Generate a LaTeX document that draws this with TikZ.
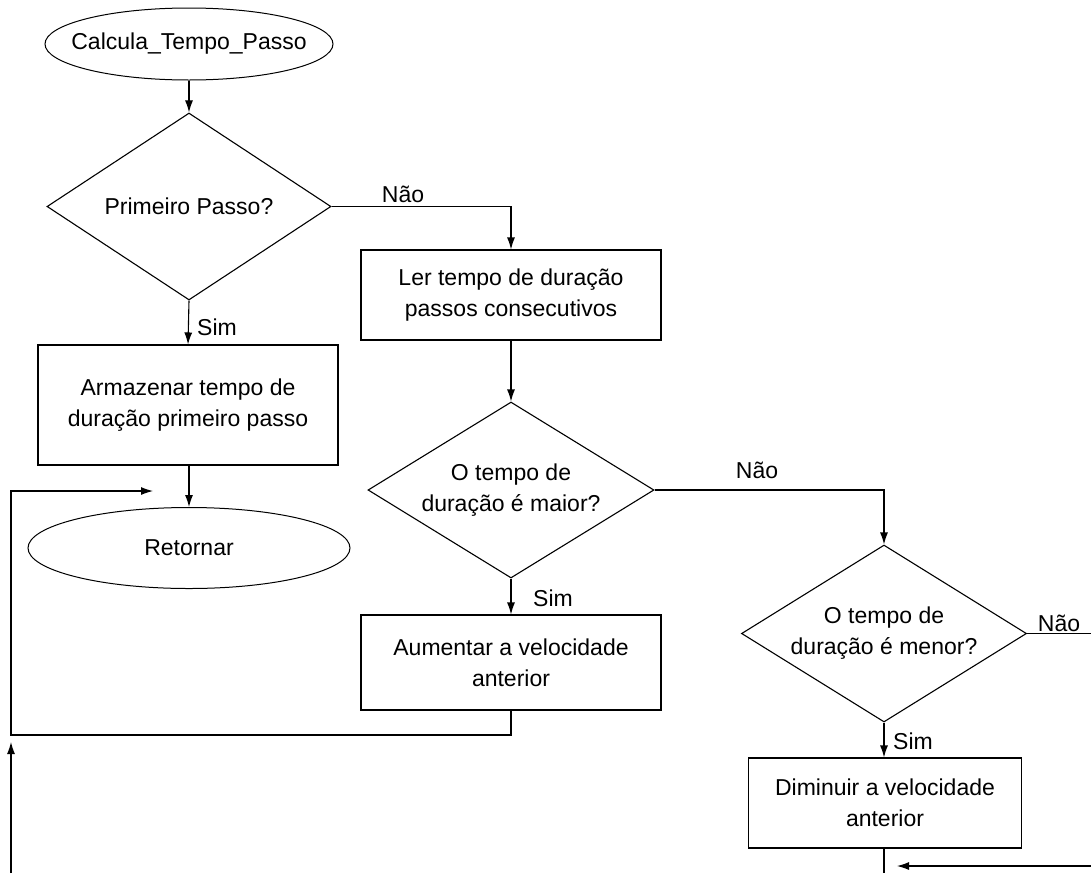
\documentclass[tikz,border=0pt]{standalone}
\usepackage{fontspec}
\setmainfont{Liberation Sans}
\usetikzlibrary{shapes.geometric,arrows.meta}
\begin{document}
\begin{tikzpicture}[x=1pt,y=-1pt,
  every node/.style={font=\fontsize{23}{31}\selectfont, align=center, inner sep=0pt},
  terminal/.style={draw, ellipse, line width=1pt},
  stepbox/.style={draw, rectangle, line width=1.1pt},
  decision/.style={draw, diamond, line width=1.1pt},
  flow/.style={line width=1.1pt},
  arr/.style={flow, -{Latex[length=12pt,width=8pt]}},
  lbl/.style={fill=none}]
\useasboundingbox (0,0) rectangle (1091,873);

% main column
\node[terminal, inner xsep=-17pt, minimum width=288, minimum height=72] (start) at (189,44) {Calcula\_Tempo\_Passo};
\node[decision, minimum width=284, minimum height=187, aspect=1.52] (d1) at (189,206.5) {Primeiro Passo?};
\node[stepbox, minimum width=300, minimum height=120] (b1) at (188,405) {Armazenar tempo de\\duração primeiro passo};
\node[terminal, minimum width=322, minimum height=81] (ret) at (189,548) {Retornar};

% second column
\node[stepbox, minimum width=300, minimum height=90] (b2) at (511,295) {Ler tempo de duração\\passos consecutivos};
\node[decision, minimum width=286, minimum height=176, aspect=1.62] (d2) at (511,490) {O tempo de\\duração é maior?};
\node[stepbox, minimum width=300, minimum height=95] (b3) at (511,662.5) {Aumentar a velocidade\\anterior};

% third column
\node[decision, minimum width=285, minimum height=177, aspect=1.61] (d3) at (884,633.5) {O tempo de\\duração é menor?};
\node[stepbox, minimum width=273, minimum height=90] (b4) at (885,803) {Diminuir a velocidade\\anterior};

% branch labels
\node[lbl] (l1) at (403,194) {Não};
\node[lbl] (l2) at (217,327) {Sim};
\node[lbl] (l3) at (757,470) {Não};
\node[lbl] (l4) at (553,598) {Sim};
\node[lbl] (l5) at (1059,623) {Não};
\node[lbl] (l6) at (913,741) {Sim};

% free ends of connectors
\coordinate (c1) at (511,735);
\coordinate (c2) at (11,735);
\coordinate (c3) at (11,491);
\coordinate (c4) at (153,491);
\coordinate (c5) at (11,873);
\coordinate (c6) at (11,742);
\coordinate (c7) at (1091,633.5);
\coordinate (c8) at (885,873);
\coordinate (c9) at (1091,866);
\coordinate (c10) at (897,866);

% connectors
\draw[arr] (start) -- (d1);
\draw[arr] (d1.south) -- (b1.north);
\draw[arr] (b1.south -| ret.north) -- (ret.north);
\draw[arr] (d1.east) -| (b2.north);
\draw[arr] (b2.south) -- (d2.north);
\draw[arr] (d2.south) -- (b3.north);
\draw[arr] (d2.east) -| (d3.north);
\draw[arr] (d3.south) -- (d3.south |- b4.north);
\draw[flow] (d3.east) -- (c7);
\draw[flow] (b4.south -| d3.south) -- (c8 -| d3.south);
\draw[arr] (b3.south) -- (c1) -- (c2) -- (c3) -- (c4);
\draw[arr] (c5) -- (c6);
\draw[arr] (c9) -- (c10);
\end{tikzpicture}
\end{document}
